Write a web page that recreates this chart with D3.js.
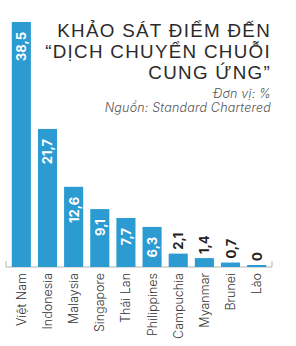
<!DOCTYPE html>
<html>
<head>
<meta charset="utf-8">
<script src="https://cdn.jsdelivr.net/npm/d3@7"></script>
<style>
  html, body { margin: 0; padding: 0; background: #fff; }
  svg { display: block; font-family: Inter, "Noto Sans", sans-serif; }
</style>
</head>
<body>
<div id="chart"></div>
<script>
var countries = ["Việt Nam", "Indonesia", "Malaysia", "Singapore", "Thái Lan", "Philippines", "Campuchia", "Myanmar", "Brunei", "Lào"];
var values = [38.5, 21.7, 12.6, 9.1, 7.7, 6.3, 2.1, 1.4, 0.7, 0];
var titleLines = ["KHẢO SÁT ĐIỂM ĐẾN", "“DỊCH CHUYỂN CHUỖI", "CUNG ỨNG”"];
var notes = ["Đơn vị: %", "Nguồn: Standard Chartered"];

var width = 296,
  height = 346,
  base = 267;

var svg = d3.select("#chart")
  .append("svg")
  .attr("width", width)
  .attr("height", height);

var x = d3.scaleBand()
  .domain(countries)
  .range([5, 273])
  .paddingInner(0.27)
  .paddingOuter(0.26);

var y = d3.scaleLinear()
  .domain([0, 38.5])
  .range([base, 22]);

var fmt = function(v) { return String(v).replace(".", ","); };

// axis line with end ticks
svg.append("path")
  .attr("d", "M6," + (base - 6) + "V" + base + "H272V" + (base - 6))
  .attr("fill", "none")
  .attr("stroke", "#b5b5b5")
  .attr("stroke-width", 1);

svg.selectAll(".bar")
  .data(values)
  .enter().append("rect")
    .attr("class", "bar")
    .attr("x", function(d, i) { return x(countries[i]); })
    .attr("width", x.bandwidth())
    .attr("y", function(d) { return Math.min(y(d), base - 2); })
    .attr("height", function(d) { return Math.max(base - y(d), 2); })
    .attr("fill", "#2b9bd1");

svg.selectAll(".val")
  .data(values)
  .enter().append("text")
    .attr("class", "val")
    .attr("transform", function(d, i) {
      var cx = x(countries[i]) + x.bandwidth() / 2 + 5;
      var ty = d >= 5 ? y(d) + 10 : Math.min(y(d), base - 2) - 4;
      return "translate(" + cx + "," + ty + ") rotate(-90)";
    })
    .attr("text-anchor", function(d) { return d >= 5 ? "end" : "start"; })
    .attr("fill", function(d) { return d >= 5 ? "#fff" : "#222"; })
    .attr("font-size", 13)
    .attr("font-weight", 700)
    .text(fmt);

svg.selectAll(".cat")
  .data(countries)
  .enter().append("text")
    .attr("class", "cat")
    .attr("transform", function(d) {
      return "translate(" + (x(d) + x.bandwidth() / 2 + 4.5) + "," + (base + 6) + ") rotate(-90)";
    })
    .attr("text-anchor", "end")
    .attr("fill", "#333")
    .attr("font-size", 12.5)
    .attr("font-weight", 300)
    .text(function(d) { return d; });

// title as one text block
var title = svg.append("text")
  .attr("text-anchor", "end")
  .attr("fill", "#2a2a2a")
  .attr("font-family", "'Liberation Sans', Arial, sans-serif")
  .attr("font-size", 18.8)
  .attr("letter-spacing", 1.3);

title.selectAll("tspan")
  .data(titleLines)
  .enter().append("tspan")
    .attr("x", 271)
    .attr("y", function(d, i) { return 37 + i * 21.2; })
    .text(function(d) { return d; });

svg.selectAll(".note")
  .data(notes)
  .enter().append("text")
    .attr("class", "note")
    .attr("x", 271)
    .attr("y", function(d, i) { return 98 + i * 14; })
    .attr("text-anchor", "end")
    .attr("fill", "#555")
    .attr("font-size", 12.5)
    .attr("font-weight", 300)
    .attr("font-style", "italic")
    .attr("letter-spacing", 0.2)
    .text(function(d) { return d; });
</script>
</body>
</html>
